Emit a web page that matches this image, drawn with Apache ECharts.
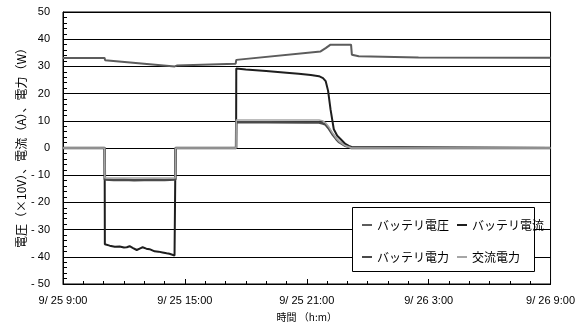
<!DOCTYPE html>
<html>
<head>
<meta charset="utf-8">
<script src="https://cdn.jsdelivr.net/npm/echarts@6/dist/echarts.min.js"></script>
<style>
  html, body { margin: 0; padding: 0; background: #fff; }
  #chart { width: 578px; height: 327px; }
</style>
</head>
<body>
<div id="chart"></div>
<script>
// Time is measured in hours from 9/25 9:00.
const timeTickLabels = ['9/ 25 9:00', '9/ 25 15:00', '9/ 25 21:00', '9/ 26 3:00', '9/ 26 9:00'];

// Battery voltage (x10 V)
const batteryVoltage = [
  [0, 33.1], [2.05, 33.1], [2.07, 32.3], [5.5, 30.0], [5.6, 30.3], [8.5, 31.0],
  [8.53, 32.4], [12.68, 35.5], [12.93, 36.7], [13.17, 38.0], [14.18, 38.0],
  [14.22, 34.3], [14.56, 33.7], [17.5, 33.3], [24, 33.2]
];

// Battery current (A)
const batteryCurrent = [
  [0, 0], [2.05, 0], [2.06, -35.4], [2.3, -35.9], [2.55, -36.3], [2.79, -36.2],
  [3.0, -36.6], [3.14, -36.5], [3.28, -36.1], [3.45, -36.8], [3.63, -37.5],
  [3.8, -36.9], [3.92, -36.5], [4.1, -37.0], [4.26, -37.2], [4.51, -38.0],
  [4.7, -38.1], [4.9, -38.4], [5.1, -38.7], [5.24, -38.9], [5.49, -39.5],
  [5.53, -39.5], [5.54, 0], [8.52, 0], [8.53, 29.2], [9.0, 28.9], [10, 28.3],
  [11, 27.7], [11.6, 27.3], [12.2, 26.8], [12.6, 26.4], [12.8, 25.7],
  [12.93, 24.6], [13.05, 21.0], [13.17, 14.2], [13.33, 6.9], [13.5, 4.5],
  [13.66, 3.3], [13.9, 1.5], [14.07, 0.8], [14.2, 0.4], [14.22, 0], [24, 0]
];

// Battery power
const batteryPower = [
  [0, 0], [2.05, 0], [2.06, -11.6], [2.5, -11.8], [3, -11.7], [3.5, -11.9],
  [4, -11.8], [4.5, -11.7], [5, -11.8], [5.53, -11.6], [5.54, 0], [8.52, 0],
  [8.53, 9.5], [10, 9.5], [12, 9.4], [12.6, 9.4], [12.8, 9.0], [12.93, 8.6],
  [13.1, 7.0], [13.26, 5.1], [13.45, 3.3], [13.6, 2.1], [13.9, 0.8],
  [14.1, 0.3], [14.2, 0], [24, 0]
];

// AC power
const acPower = [
  [0, 0], [2.05, 0], [2.06, -11.0], [5.53, -11.0], [5.54, 0], [8.52, 0],
  [8.53, 10.3], [12.6, 10.3], [12.8, 9.9], [12.93, 9.2], [13.1, 7.6],
  [13.26, 5.6], [13.45, 3.6], [13.6, 2.3], [13.9, 0.8], [14.1, 0.3],
  [14.2, 0], [24, 0]
];

const latinFont = '"Liberation Sans", Arial, sans-serif';
const cjkFont = '"Noto Sans CJK JP", "Liberation Sans", sans-serif';

function lineSeries(name, data, color, width) {
  return {
    name: name,
    type: 'line',
    data: data,
    showSymbol: false,
    symbol: 'none',
    animation: false,
    lineStyle: { color: color, width: width },
    itemStyle: { color: color }
  };
}

const legendCommon = {
  selectedMode: false,
  icon: 'rect',
  itemWidth: 10,
  itemHeight: 2,
  itemGap: 8,
  orient: 'horizontal',
  z: 120,
  textStyle: { fontFamily: cjkFont, fontSize: 12, color: '#000' }
};

const chart = echarts.init(document.getElementById('chart'), null, { renderer: 'canvas' });
chart.setOption({
  animation: false,
  backgroundColor: '#fff',
  grid: {
    left: 63, right: 25, top: 12, bottom: 41,
    show: true, borderColor: '#000', borderWidth: 1, backgroundColor: 'transparent'
  },
  xAxis: {
    type: 'value',
    min: 0, max: 24, interval: 6,
    name: '時間 （h:m）',
    nameLocation: 'middle',
    nameGap: 28,
    nameTextStyle: { fontFamily: cjkFont, fontSize: 10, color: '#000' },
    axisLine: { show: true, onZero: false, lineStyle: { color: '#000', width: 1 } },
    axisTick: { show: true, inside: true, length: 5, lineStyle: { color: '#000' } },
    minorTick: { show: true, splitNumber: 6, length: 3, lineStyle: { color: '#000' } },
    splitLine: { show: false },
    axisLabel: {
      fontFamily: latinFont, fontSize: 11, color: '#000', margin: 11,
      showMinLabel: true, showMaxLabel: true,
      formatter: function (v) { return timeTickLabels[Math.round(v / 6)]; }
    }
  },
  yAxis: {
    type: 'value',
    min: -50, max: 50, interval: 10,
    axisLine: { show: true, onZero: false, lineStyle: { color: '#000', width: 1 } },
    axisTick: { show: true, inside: true, length: 4, lineStyle: { color: '#000' } },
    minorTick: { show: true, splitNumber: 5, length: 4, lineStyle: { color: '#000' } },
    splitLine: { show: true, lineStyle: { color: '#000', width: 1 } },
    axisLabel: {
      fontFamily: latinFont, fontSize: 11, color: '#000', margin: 13,
      formatter: function (v) { return v < 0 ? '- ' + (-v) : String(v); }
    }
  },
  graphic: [
    {
      type: 'text',
      x: 21, y: 145,
      rotation: Math.PI / 2,
      style: {
        text: '電圧（×10V）、電流（A）、電力（W）',
        font: '12px ' + cjkFont,
        fill: '#000',
        align: 'center',
        verticalAlign: 'middle'
      },
      z: 100
    },
    {
      type: 'rect',
      shape: { x: 352.5, y: 207.5, width: 182, height: 64 },
      style: { fill: '#fff', stroke: '#000', lineWidth: 1 },
      z: 100
    }
  ],
  legend: [
    Object.assign({}, legendCommon, { left: 357, top: 214, data: ['バッテリ電圧', 'バッテリ電流'] }),
    Object.assign({}, legendCommon, { left: 357, top: 246, data: ['バッテリ電力', '交流電力'] })
  ],
  series: [
    lineSeries('バッテリ電圧', batteryVoltage, '#5c5c5c', 2),
    lineSeries('バッテリ電流', batteryCurrent, '#1e1e1e', 2),
    lineSeries('バッテリ電力', batteryPower, '#4a4a4a', 2.5),
    lineSeries('交流電力', acPower, '#a6a6a6', 1.5)
  ]
});
</script>
</body>
</html>
